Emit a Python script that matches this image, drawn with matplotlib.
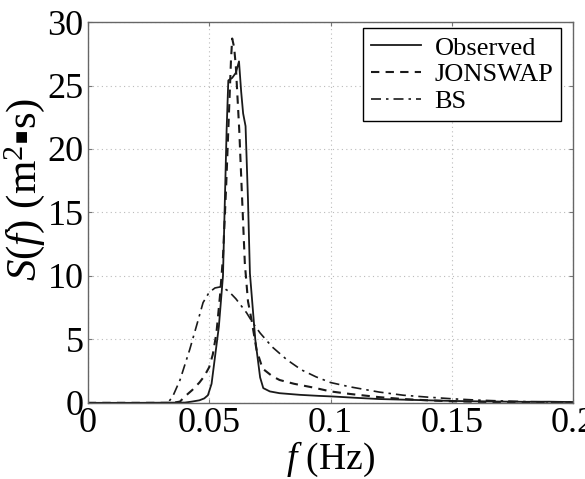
import numpy as np
import matplotlib
matplotlib.use("Agg")
import matplotlib.pyplot as plt

plt.rcParams['font.family'] = ['Liberation Serif', 'DejaVu Sans']
plt.rcParams['mathtext.fontset'] = 'custom'
plt.rcParams['mathtext.rm'] = 'Liberation Serif'
plt.rcParams['mathtext.it'] = 'Liberation Serif:italic'

# Observed spectrum
f_obs = [0.0, 0.02, 0.04, 0.043, 0.046, 0.048, 0.0495, 0.051, 0.0524, 0.054,
         0.0557, 0.0572, 0.0579, 0.0595, 0.061, 0.0623, 0.0632, 0.064, 0.065,
         0.066, 0.0668, 0.069, 0.071, 0.0723, 0.075, 0.079, 0.0874, 0.095,
         0.101, 0.11, 0.12, 0.13, 0.14, 0.15, 0.16, 0.17, 0.18, 0.19, 0.2]
s_obs = [0.0, 0.0, 0.02, 0.1, 0.2, 0.35, 0.6, 1.5, 3.6, 6.0,
         10.0, 21.5, 25.4, 25.6, 26.0, 26.9, 24.5, 22.8, 21.8,
         16.0, 10.2, 5.0, 2.0, 1.16, 0.9, 0.76, 0.63, 0.55,
         0.5, 0.4, 0.3, 0.25, 0.2, 0.15, 0.12, 0.1, 0.08, 0.09, 0.06]

# JONSWAP spectrum
f_jon = [0.0, 0.035, 0.038, 0.040, 0.043, 0.046, 0.048, 0.050, 0.0515, 0.053,
         0.0545, 0.0557, 0.057, 0.058, 0.059, 0.0595, 0.0603, 0.061, 0.0624,
         0.0636, 0.0647, 0.066, 0.0675, 0.0695, 0.072, 0.076, 0.079, 0.085,
         0.093, 0.1, 0.108, 0.12, 0.13, 0.14, 0.15, 0.17, 0.2]
s_jon = [0.0, 0.0, 0.1, 0.5, 1.0, 1.6, 2.1, 2.8, 3.8, 5.5,
         8.5, 11.5, 17.0, 22.0, 27.0, 28.7, 28.0, 26.5, 21.5,
         16.0, 11.0, 8.0, 6.5, 4.2, 2.7, 2.1, 1.8, 1.5,
         1.2, 0.9, 0.7, 0.45, 0.3, 0.2, 0.12, 0.05, 0.02]

# BS spectrum
f_bs = [0.0, 0.033, 0.035, 0.038, 0.040, 0.042, 0.045, 0.0475, 0.050, 0.0524,
        0.055, 0.058, 0.061, 0.0654, 0.068, 0.071, 0.076, 0.082, 0.088, 0.094,
        0.1, 0.108, 0.12, 0.13, 0.14, 0.15, 0.16, 0.17, 0.18, 0.19, 0.2]
s_bs = [0.0, 0.0, 0.5, 1.8, 3.0, 4.2, 6.2, 7.9, 8.7, 9.05,
        9.15, 8.8, 8.2, 7.1, 6.3, 5.5, 4.4, 3.4, 2.6, 2.05,
        1.6, 1.26, 0.85, 0.6, 0.45, 0.32, 0.22, 0.15, 0.1, 0.07, 0.05]

x_ticks = [0, 0.05, 0.1, 0.15, 0.2]
x_labels = ['0', '0.05', '0.1', '0.15', '0.2']
y_ticks = [0, 5, 10, 15, 20, 25, 30]

fig = plt.figure(figsize=(5.85, 4.79), dpi=100)
ax = fig.add_axes([0.150, 0.159, 0.830, 0.795])

ax.plot(f_obs, s_obs, color='#1a1a1a', lw=1.3, label='Observed')
ax.plot(f_jon, s_jon, color='#1a1a1a', lw=1.5, ls=(0, (4, 3)), label='JONSWAP')
ax.plot(f_bs, s_bs, color='#1a1a1a', lw=1.2, ls=(0, (6, 3, 1.5, 3)), label='BS')

ax.set_xlim(0, 0.2)
ax.set_ylim(0, 30)
ax.set_xticks(x_ticks)
ax.set_xticklabels(x_labels)
ax.set_yticks(y_ticks)
ax.tick_params(labelsize=26, direction='in', length=3, color='#777777', pad=3,
               top=True, right=True)
ax.grid(True, ls=(0, (1, 3)), color='#bbbbbb', lw=0.8)
for sp in ax.spines.values():
    sp.set_color('#666666')
    sp.set_linewidth(1.0)

ax.set_xlabel(r'$f$ (Hz)', fontsize=27, labelpad=0)
ax.set_ylabel(r'$S(f)$ (m$^2$▪s)', fontsize=31)
ax.yaxis.set_label_coords(-0.083, 0.56)

leg = ax.legend(loc='upper right', bbox_to_anchor=(0.975, 0.984), fontsize=19,
                frameon=True, fancybox=False, edgecolor='black',
                handlelength=1.9, handletextpad=0.5, borderpad=0.3,
                labelspacing=0.12, borderaxespad=0.0, framealpha=1.0)
leg.get_frame().set_linewidth(1.0)

fig.savefig('out.png', dpi=100)
